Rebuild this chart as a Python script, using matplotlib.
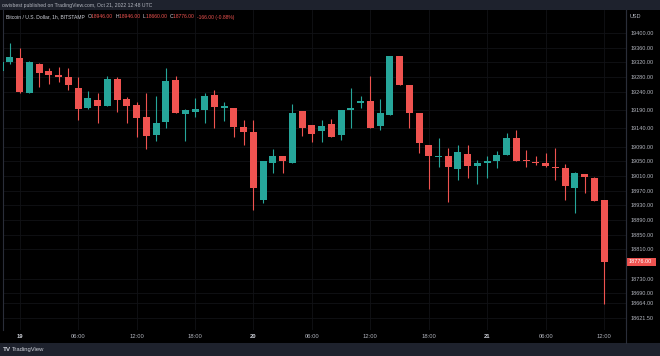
import matplotlib
matplotlib.use("Agg")
import matplotlib.pyplot as plt
from matplotlib.patches import Rectangle
from matplotlib.transforms import blended_transform_factory

# ---- data (1h candles, index 0 = Oct 19 00:00) ----
hours = list(range(-2, 61))
opens = [19297, 19322, 19331, 19236, 19315, 19296, 19287, 19279, 19249, 19196,
         19218, 19202, 19274, 19219, 19204, 19172, 19121, 19157, 19272, 19179,
         19185, 19190, 19231, 19197, 19195, 19144, 19131, 18946, 19045, 19065,
         19045, 19188, 19148, 19133, 19151, 19121, 19189, 19210, 19215, 19146,
         19177, 19337, 19258, 19181, 19096, 19061, 19065, 19028, 19069, 19038,
         19045, 19052, 19067, 19113, 19055, 19049, 19045, 19035, 19033, 18978,
         19015, 19005, 18946]
highs = [19325, 19372, 19358, 19324, 19319, 19305, 19308, 19306, 19281, 19243,
         19237, 19283, 19281, 19226, 19213, 19236, 19229, 19306, 19283, 19193,
         19222, 19236, 19245, 19213, 19197, 19163, 19163, 19052, 19083, 19065,
         19206, 19188, 19148, 19163, 19165, 19190, 19249, 19228, 19283, 19220,
         19338, 19337, 19258, 19181, 19096, 19114, 19086, 19096, 19095, 19054,
         19065, 19079, 19128, 19135, 19081, 19065, 19072, 19087, 19042, 19022,
         19015, 19008, 18946]
lows = [19292, 19317, 19236, 19236, 19254, 19260, 19267, 19246, 19163, 19193,
        19156, 19202, 19185, 19154, 19116, 19083, 19105, 19142, 19181, 19105,
        19172, 19154, 19142, 19161, 19117, 19095, 18917, 18936, 19019, 19017,
        19045, 19119, 19104, 19104, 19117, 19108, 19142, 19195, 19140, 19135,
        19177, 19258, 19142, 19072, 18974, 19034, 18940, 18999, 19006, 18988,
        19006, 19031, 19067, 19052, 19035, 19040, 19034, 18999, 18946, 18908,
        18963, 18942, 18660]
closes = [19322, 19335, 19239, 19320, 19292, 19287, 19281, 19258, 19193, 19223,
          19200, 19274, 19217, 19200, 19167, 19120, 19155, 19270, 19181, 19190,
          19192, 19229, 19199, 19202, 19144, 19129, 18978, 19052, 19065, 19051,
          19183, 19142, 19125, 19146, 19117, 19190, 19195, 19215, 19140, 19181,
          19338, 19258, 19183, 19099, 19065, 19065, 19035, 19076, 19038, 19045,
          19051, 19067, 19114, 19052, 19051, 19045, 19037, 19033, 18983, 19017,
          19007, 18942, 18776]

xtick_pos = [0, 6, 12, 18, 24, 30, 36, 42, 48, 54, 60]
xtick_labels = ['19', '06:00', '12:00', '18:00', '20', '06:00', '12:00',
                '18:00', '21', '06:00', '12:00']
ytick_vals = [19400, 19360, 19320, 19280, 19240, 19190, 19140, 19090, 19050,
              19010, 18970, 18930, 18890, 18850, 18810, 18730, 18690, 18664,
              18621.5]

UP = '#26a69a'
DOWN = '#ef5350'
TXT = '#b2b5be'
BAR_BG = '#1e222d'
GRID = '#111216'
FONT = 'Liberation Sans'

W, H = 660, 356
fig = plt.figure(figsize=(W / 100, H / 100), dpi=100, facecolor='black')

# header and footer bands
fig.patches.append(Rectangle((0, 1 - 10 / H), 1, 10 / H, transform=fig.transFigure,
                             facecolor=BAR_BG, edgecolor='none', zorder=0))
fig.patches.append(Rectangle((0, 0), 1, 13 / H, transform=fig.transFigure,
                             facecolor=BAR_BG, edgecolor='none', zorder=0))

left, right, top, bottom = 3, 626, 10, 330
ax = fig.add_axes([left / W, 1 - bottom / H, (right - left) / W, (bottom - top) / H])
ax.set_facecolor('black')

for h, o, hi, lo, c in zip(hours, opens, highs, lows, closes):
    col = UP if c >= o else DOWN
    ax.vlines(h, lo, hi, color=col, linewidth=0.8, zorder=3)
    ax.bar(h, max(abs(c - o), 3), bottom=min(o, c), width=0.72, color=col,
           linewidth=0, zorder=4)

ax.set_xlim(-1.715, 62.25)
ax.set_ylim(18590, 19463)

ax.set_xticks(xtick_pos)
ax.set_xticklabels(xtick_labels)
for lab, t in zip(ax.get_xticklabels(), xtick_labels):
    lab.set_fontfamily(FONT)
    lab.set_fontsize(4.2)
    lab.set_color('#d1d4dc' if ':' not in t else TXT)
    if ':' not in t:
        lab.set_fontweight('bold')
ax.tick_params(axis='x', length=0, pad=3.2)

ax.yaxis.tick_right()
ax.set_yticks(ytick_vals)
ax.set_yticklabels([f'{v:.2f}' for v in ytick_vals])
for lab in ax.get_yticklabels():
    lab.set_fontfamily(FONT)
    lab.set_fontsize(4.0)
    lab.set_color(TXT)
ax.tick_params(axis='y', length=0, pad=3.6)

ax.grid(True, color=GRID, linewidth=0.6, zorder=0)
for s in ['top', 'bottom']:
    ax.spines[s].set_visible(False)
ax.spines['left'].set_color('#2a2e39')
ax.spines['left'].set_linewidth(0.8)
ax.spines['right'].set_color('#2a2e39')
ax.spines['right'].set_linewidth(0.8)

# right separator extended into the time-axis band
fig.add_artist(plt.Line2D([right / W, right / W], [13 / H, 1 - top / H],
                          color='#2a2e39', linewidth=0.8, transform=fig.transFigure))

# last price tag
last = closes[-1]
tr = blended_transform_factory(ax.transAxes, ax.transData)
ax.add_patch(Rectangle((1.0, last - 11.5), 30 / (right - left), 23, transform=tr,
                       facecolor=DOWN, edgecolor='none', clip_on=False, zorder=5))
ax.text(1.0 + 3 / (right - left), last, f'{last:.2f}', transform=tr, ha='left',
        va='center', fontsize=4.0, color='white', family=FONT, zorder=6)

# USD label
fig.text(630 / W, 1 - 17 / H, 'USD', fontsize=4.0, color=TXT, family=FONT,
         ha='left', va='center')

# header text
fig.text(2 / W, 1 - 5 / H, 'owisbest published on TradingView.com, Oct 21, 2022 12:48 UTC',
         fontsize=3.7, color=TXT, family=FONT, ha='left', va='center')

# title line built from the last candle
o_, h_, l_, c_ = opens[-1], highs[-1], lows[-1], closes[-1]
prev_c = closes[-2]
chg = c_ - prev_c
pct = chg / prev_c * 100
pieces = [('Bitcoin / U.S. Dollar, 1h, BITSTAMP ', '#d1d4dc'),
          ('O', '#d1d4dc'), (f'{o_:.2f} ', DOWN),
          ('H', '#d1d4dc'), (f'{h_:.2f} ', DOWN),
          ('L', '#d1d4dc'), (f'{l_:.2f} ', DOWN),
          ('C', '#d1d4dc'), (f'{c_:.2f} ', DOWN),
          (f'{chg:.2f} ({pct:.2f}%)', DOWN)]
fig.canvas.draw()
renderer = fig.canvas.get_renderer()
xpix = 6
for s, col in pieces:
    t = fig.text(xpix / W, 1 - 17 / H, s, fontsize=3.6, color=col, family=FONT,
                 ha='left', va='center')
    bb = t.get_window_extent(renderer=renderer)
    xpix += bb.width + (1.5 if s.endswith(' ') else 0)

# footer logo
fig.text(3 / W, 1 - 349.5 / H, 'TV', fontsize=4.6, color='#d1d4dc', family=FONT,
         fontweight='bold', ha='left', va='center')
fig.text(12 / W, 1 - 349.5 / H, 'TradingView', fontsize=4.2, color='#d1d4dc',
         family=FONT, ha='left', va='center')

fig.savefig('out.png', dpi=100, facecolor='black')
